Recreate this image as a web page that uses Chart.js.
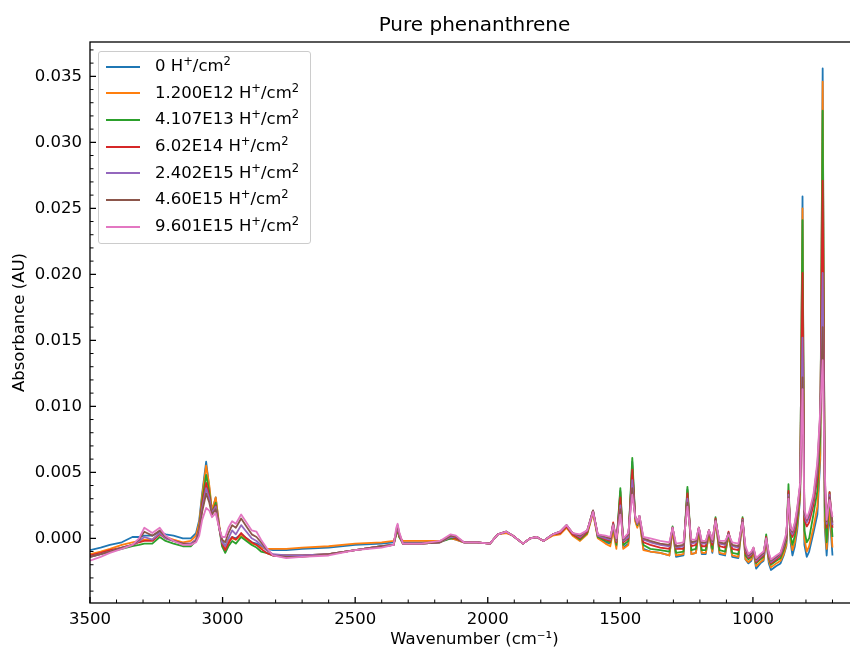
<!DOCTYPE html>
<html>
<head>
<meta charset="utf-8">
<title>Pure phenanthrene</title>
<script src="https://cdn.jsdelivr.net/npm/chart.js@4/dist/chart.umd.min.js"></script>
<style>
  html, body { margin: 0; padding: 0; background: #fff; overflow: hidden; }
  .chart-wrap { position: relative; width: 860px; height: 651px; }
  .legend-box {
    position: absolute; left: 98px; top: 51px; width: 211px; height: 190px;
    background: rgba(255,255,255,0.8); border: 1px solid #cccccc; border-radius: 3px;
    font-family: 'DejaVu Sans', sans-serif; font-size: 16.5px; color: #000;
    padding-top: 1px;
  }
  .legend-row { position: relative; height: 26.7px; line-height: 26.7px; padding-left: 56px; white-space: nowrap; }
  .legend-line { position: absolute; left: 7px; top: 12.5px; width: 34px; height: 2px; }
  .legend-row sup { font-size: 0.7em; vertical-align: 0.5em; line-height: 0; }
</style>
</head>
<body>
<div class="chart-wrap">
  <canvas id="spectrum-chart" width="860" height="651"></canvas>
  <div class="legend-box" id="spectrum-legend"></div>
</div>
<script>
// wavenumbers (cm-1), shared by all spectra
var wavenumbers = [3500,3460,3425,3380,3340,3315,3295,3265,3237,3215,
  3185,3150,3120,3100,3088,3077,3062,3050,3040,3026,
  3012,3002,2990,2978,2964,2950,2930,2910,2890,2872,
  2855,2835,2810,2760,2700,2600,2500,2400,2355,2345,
  2340,2334,2320,2250,2180,2140,2120,2090,2040,1992,
  1962,1930,1905,1867,1840,1815,1790,1755,1727,1703,
  1680,1652,1625,1603,1585,1556,1538,1527,1515,1500,
  1489,1470,1455,1444,1436,1428,1413,1387,1350,1315,
  1303,1290,1262,1247,1232,1215,1204,1193,1178,1166,
  1153,1141,1126,1105,1092,1078,1055,1039,1028,1017,
  1006,998,988,972,960,950,940,932,912,896,
  884,874,866,858,851,842,833,822,813,806,
  797,788,772,757,746,737,729,722,711,700];

// proton fluences
var doses = ['0', '1.200E12', '4.107E13', '6.02E14', '2.402E15', '4.60E15', '9.601E15'];

// tick labels
var xTickValues = [3500, 3000, 2500, 2000, 1500, 1000];
var yTickValues = [0, 0.005, 0.010, 0.015, 0.020, 0.025, 0.030, 0.035];

// absorbance (AU) for each fluence
var abs0 = [-0.0009,-0.0007,-0.0005,-0.0003,0.0001,0.0001,0.0002,0.0002,0.0005,0.0003,
  0.0002,0.0000,0.0000,0.0004,0.0014,0.0034,0.0058,0.0038,0.0020,0.0031,
  0.0008,-0.0002,-0.0006,-0.0002,0.0001,0.0000,0.0003,0.0000,-0.0003,-0.0004,
  -0.0006,-0.0008,-0.0009,-0.0009,-0.0008,-0.0007,-0.0005,-0.0004,-0.0003,0.0004,
  0.0008,0.0002,-0.0003,-0.0003,-0.0002,0.0000,-0.0001,-0.0003,-0.0003,-0.0004,
  0.0003,0.0005,0.0002,-0.0004,0.0000,0.0001,-0.0002,0.0003,0.0005,0.0009,
  0.0003,-0.0001,0.0004,0.0020,0.0001,-0.0003,-0.0004,0.0007,-0.0006,0.0036,
  -0.0007,-0.0004,0.0058,0.0014,0.0009,0.0015,-0.0008,-0.0010,-0.0011,-0.0013,
  0.0007,-0.0014,-0.0013,0.0037,-0.0012,-0.0011,0.0006,-0.0012,-0.0012,0.0004,
  -0.0011,0.0014,-0.0012,-0.0013,0.0003,-0.0014,-0.0015,0.0014,-0.0016,-0.0019,
  -0.0017,-0.0010,-0.0023,-0.0019,-0.0017,-0.0002,-0.0019,-0.0024,-0.0021,-0.0019,
  -0.0013,-0.0006,0.0035,-0.0003,-0.0013,-0.0006,0.0006,0.0030,0.0259,-0.0005,
  -0.0014,-0.0010,0.0004,0.0018,0.0060,0.0356,0.0008,-0.0013,0.0020,-0.0013];
var abs1 = [-0.0012,-0.0010,-0.0008,-0.0005,-0.0003,-0.0002,-0.0001,-0.0001,0.0004,0.0001,
  -0.0001,-0.0003,-0.0002,0.0002,0.0012,0.0032,0.0055,0.0040,0.0021,0.0031,
  0.0009,-0.0003,-0.0007,-0.0002,0.0000,-0.0001,0.0002,-0.0001,-0.0004,-0.0005,
  -0.0007,-0.0008,-0.0008,-0.0008,-0.0007,-0.0006,-0.0004,-0.0003,-0.0002,0.0003,
  0.0007,0.0001,-0.0002,-0.0002,-0.0002,0.0000,-0.0001,-0.0003,-0.0003,-0.0004,
  0.0003,0.0004,0.0002,-0.0004,0.0000,0.0001,-0.0002,0.0002,0.0003,0.0008,
  0.0002,-0.0002,0.0003,0.0019,0.0000,-0.0004,-0.0006,0.0006,-0.0008,0.0035,
  -0.0008,-0.0005,0.0055,0.0013,0.0008,0.0014,-0.0009,-0.0010,-0.0011,-0.0013,
  0.0006,-0.0013,-0.0012,0.0036,-0.0012,-0.0011,0.0005,-0.0011,-0.0011,0.0003,
  -0.0010,0.0013,-0.0011,-0.0012,0.0002,-0.0013,-0.0014,0.0013,-0.0016,-0.0018,
  -0.0016,-0.0010,-0.0021,-0.0018,-0.0016,-0.0002,-0.0017,-0.0022,-0.0019,-0.0017,
  -0.0012,-0.0005,0.0033,-0.0001,-0.0009,-0.0003,0.0009,0.0032,0.0250,0.0000,
  -0.0010,-0.0006,0.0008,0.0024,0.0064,0.0346,0.0013,-0.0008,0.0024,-0.0007];
var abs2 = [-0.0014,-0.0012,-0.0010,-0.0008,-0.0006,-0.0005,-0.0004,-0.0004,0.0001,-0.0002,
  -0.0004,-0.0006,-0.0006,-0.0002,0.0008,0.0028,0.0048,0.0035,0.0019,0.0027,
  0.0007,-0.0006,-0.0011,-0.0006,-0.0002,-0.0004,0.0001,-0.0002,-0.0005,-0.0007,
  -0.0010,-0.0011,-0.0013,-0.0013,-0.0013,-0.0012,-0.0009,-0.0006,-0.0005,0.0003,
  0.0007,0.0001,-0.0004,-0.0004,-0.0003,0.0000,0.0000,-0.0003,-0.0003,-0.0004,
  0.0003,0.0005,0.0002,-0.0004,0.0000,0.0001,-0.0002,0.0003,0.0004,0.0009,
  0.0003,-0.0001,0.0004,0.0021,0.0001,-0.0002,-0.0003,0.0010,-0.0005,0.0038,
  -0.0005,-0.0002,0.0061,0.0016,0.0010,0.0016,-0.0005,-0.0008,-0.0009,-0.0010,
  0.0009,-0.0011,-0.0010,0.0039,-0.0009,-0.0008,0.0008,-0.0009,-0.0009,0.0006,
  -0.0008,0.0016,-0.0009,-0.0010,0.0004,-0.0011,-0.0012,0.0016,-0.0013,-0.0016,
  -0.0014,-0.0008,-0.0019,-0.0016,-0.0014,0.0003,-0.0015,-0.0020,-0.0017,-0.0015,
  -0.0009,-0.0002,0.0041,0.0002,-0.0005,0.0002,0.0013,0.0036,0.0241,0.0006,
  -0.0003,0.0000,0.0018,0.0036,0.0078,0.0324,0.0024,-0.0003,0.0035,0.0001];
var abs3 = [-0.0013,-0.0011,-0.0009,-0.0007,-0.0005,-0.0003,-0.0002,-0.0002,0.0003,0.0000,
  -0.0002,-0.0004,-0.0004,-0.0001,0.0007,0.0026,0.0042,0.0032,0.0019,0.0025,
  0.0007,-0.0004,-0.0009,-0.0004,0.0001,-0.0001,0.0004,0.0000,-0.0003,-0.0005,
  -0.0008,-0.0011,-0.0013,-0.0013,-0.0013,-0.0012,-0.0009,-0.0006,-0.0005,0.0004,
  0.0008,0.0002,-0.0004,-0.0004,-0.0003,0.0001,0.0000,-0.0003,-0.0003,-0.0004,
  0.0003,0.0005,0.0002,-0.0004,0.0000,0.0001,-0.0002,0.0003,0.0004,0.0009,
  0.0003,0.0000,0.0005,0.0021,0.0002,-0.0001,-0.0002,0.0012,-0.0003,0.0031,
  -0.0003,0.0000,0.0052,0.0016,0.0011,0.0016,-0.0003,-0.0005,-0.0007,-0.0008,
  0.0008,-0.0008,-0.0008,0.0034,-0.0006,-0.0005,0.0008,-0.0006,-0.0006,0.0006,
  -0.0005,0.0015,-0.0006,-0.0007,0.0005,-0.0008,-0.0009,0.0015,-0.0011,-0.0015,
  -0.0013,-0.0008,-0.0018,-0.0015,-0.0013,0.0001,-0.0014,-0.0019,-0.0016,-0.0013,
  -0.0007,0.0000,0.0036,0.0005,0.0001,0.0006,0.0017,0.0038,0.0201,0.0014,
  0.0009,0.0012,0.0025,0.0046,0.0088,0.0271,0.0036,0.0008,0.0035,0.0008];
var abs4 = [-0.0014,-0.0012,-0.0010,-0.0007,-0.0005,-0.0002,0.0001,-0.0001,0.0004,0.0000,
  -0.0002,-0.0004,-0.0004,-0.0001,0.0006,0.0023,0.0038,0.0030,0.0019,0.0024,
  0.0007,-0.0003,-0.0006,0.0000,0.0006,0.0003,0.0010,0.0005,0.0000,-0.0002,
  -0.0005,-0.0009,-0.0012,-0.0013,-0.0013,-0.0012,-0.0009,-0.0006,-0.0005,0.0005,
  0.0009,0.0003,-0.0004,-0.0004,-0.0003,0.0001,0.0001,-0.0003,-0.0003,-0.0004,
  0.0003,0.0005,0.0002,-0.0004,0.0000,0.0001,-0.0002,0.0003,0.0005,0.0010,
  0.0004,0.0001,0.0006,0.0021,0.0002,0.0000,-0.0001,0.0011,-0.0002,0.0025,
  -0.0002,0.0001,0.0044,0.0016,0.0011,0.0017,-0.0001,-0.0003,-0.0005,-0.0006,
  0.0008,-0.0007,-0.0006,0.0030,-0.0004,-0.0003,0.0008,-0.0004,-0.0004,0.0006,
  -0.0003,0.0014,-0.0004,-0.0005,0.0004,-0.0006,-0.0007,0.0014,-0.0009,-0.0014,
  -0.0012,-0.0008,-0.0017,-0.0014,-0.0012,0.0000,-0.0013,-0.0018,-0.0015,-0.0012,
  -0.0006,0.0001,0.0033,0.0006,0.0003,0.0009,0.0020,0.0040,0.0152,0.0018,
  0.0012,0.0016,0.0029,0.0052,0.0093,0.0201,0.0042,0.0011,0.0033,0.0010];
var abs5 = [-0.0014,-0.0012,-0.0010,-0.0007,-0.0005,-0.0001,0.0005,0.0002,0.0006,0.0001,
  -0.0002,-0.0004,-0.0005,-0.0002,0.0005,0.0020,0.0034,0.0027,0.0018,0.0022,
  0.0007,-0.0001,-0.0003,0.0004,0.0010,0.0008,0.0015,0.0009,0.0003,0.0001,
  -0.0003,-0.0008,-0.0013,-0.0014,-0.0014,-0.0012,-0.0009,-0.0006,-0.0005,0.0006,
  0.0010,0.0004,-0.0004,-0.0004,-0.0003,0.0002,0.0001,-0.0003,-0.0003,-0.0004,
  0.0003,0.0005,0.0002,-0.0004,0.0000,0.0001,-0.0002,0.0003,0.0005,0.0010,
  0.0004,0.0002,0.0006,0.0021,0.0003,0.0001,0.0000,0.0011,-0.0001,0.0022,
  -0.0001,0.0003,0.0038,0.0017,0.0012,0.0017,0.0000,-0.0002,-0.0004,-0.0005,
  0.0008,-0.0006,-0.0005,0.0027,-0.0003,-0.0002,0.0008,-0.0003,-0.0003,0.0006,
  -0.0002,0.0014,-0.0003,-0.0004,0.0004,-0.0005,-0.0006,0.0013,-0.0008,-0.0013,
  -0.0011,-0.0007,-0.0016,-0.0013,-0.0011,0.0000,-0.0012,-0.0017,-0.0014,-0.0011,
  -0.0005,0.0002,0.0031,0.0007,0.0005,0.0011,0.0022,0.0040,0.0122,0.0020,
  0.0014,0.0018,0.0031,0.0055,0.0095,0.0160,0.0046,0.0013,0.0031,0.0012];
var abs6 = [-0.0017,-0.0014,-0.0011,-0.0008,-0.0005,0.0000,0.0008,0.0004,0.0008,0.0002,
  -0.0002,-0.0005,-0.0005,-0.0003,0.0002,0.0014,0.0023,0.0021,0.0016,0.0019,
  0.0007,0.0001,0.0001,0.0008,0.0013,0.0011,0.0018,0.0012,0.0006,0.0005,
  -0.0001,-0.0007,-0.0013,-0.0015,-0.0014,-0.0013,-0.0009,-0.0007,-0.0005,0.0008,
  0.0011,0.0005,-0.0004,-0.0004,-0.0002,0.0003,0.0002,-0.0003,-0.0003,-0.0004,
  0.0003,0.0005,0.0002,-0.0004,0.0000,0.0001,-0.0002,0.0003,0.0005,0.0010,
  0.0004,0.0003,0.0006,0.0020,0.0003,0.0002,0.0001,0.0010,0.0000,0.0018,
  0.0000,0.0004,0.0033,0.0017,0.0012,0.0017,0.0001,0.0000,-0.0002,-0.0003,
  0.0008,-0.0004,-0.0003,0.0024,-0.0001,-0.0001,0.0008,-0.0002,-0.0002,0.0006,
  -0.0001,0.0013,-0.0002,-0.0002,0.0003,-0.0003,-0.0004,0.0012,-0.0006,-0.0012,
  -0.0010,-0.0007,-0.0015,-0.0012,-0.0010,0.0000,-0.0011,-0.0016,-0.0013,-0.0011,
  -0.0003,0.0004,0.0030,0.0008,0.0006,0.0012,0.0023,0.0042,0.0113,0.0022,
  0.0015,0.0020,0.0033,0.0058,0.0098,0.0135,0.0050,0.0014,0.0029,0.0016];

var spectra = [abs0, abs1, abs2, abs3, abs4, abs5, abs6];
var colors = ['#1f77b4', '#ff7f0e', '#2ca02c', '#d62728', '#9467bd', '#8c564b', '#e377c2'];

Chart.defaults.font.family = "'DejaVu Sans', sans-serif";
Chart.defaults.color = '#000';

// matplotlib style frame with inward ticks (left and bottom)
var insideTicks = {
  id: 'insideTicks',
  afterDraw: function(chart) {
    var ctx = chart.ctx;
    var area = chart.chartArea;
    var xs = chart.scales.x, ys = chart.scales.y;
    var i, p, v;
    ctx.save();
    ctx.strokeStyle = '#000';
    ctx.lineWidth = 1.3;
    ctx.strokeRect(area.left, area.top, area.right - area.left, area.bottom - area.top);

    ctx.beginPath();
    for (i = 0; i < xs.ticks.length; i++) {
      p = xs.getPixelForValue(xs.ticks[i].value);
      ctx.moveTo(p, area.bottom);
      ctx.lineTo(p, area.bottom - 6);
    }
    for (i = 0; i < ys.ticks.length; i++) {
      p = ys.getPixelForValue(ys.ticks[i].value);
      ctx.moveTo(area.left, p);
      ctx.lineTo(area.left + 6, p);
    }
    ctx.stroke();

    ctx.lineWidth = 1;
    ctx.beginPath();
    for (v = 700; v < 3500; v += 100) {
      if (v % 500 === 0) continue;
      p = xs.getPixelForValue(v);
      ctx.moveTo(p, area.bottom);
      ctx.lineTo(p, area.bottom - 3.5);
    }
    for (i = -4; i <= 37; i++) {
      if (i % 5 === 0) continue;
      p = ys.getPixelForValue(i / 1000);
      ctx.moveTo(area.left, p);
      ctx.lineTo(area.left + 3.5, p);
    }
    ctx.stroke();
    ctx.restore();
  }
};

var datasets = [];
for (var s = 0; s < spectra.length; s++) {
  var pts = [];
  for (var k = 0; k < wavenumbers.length; k++) {
    pts.push({x: wavenumbers[k], y: spectra[s][k]});
  }
  datasets.push({
    label: doses[s] + ' H\u207A/cm\u00B2',
    data: pts,
    borderColor: colors[s],
    backgroundColor: colors[s],
    borderWidth: 1.8,
    borderJoinStyle: 'round',
    pointRadius: 0,
    tension: 0,
    fill: false,
    order: spectra.length - 1 - s
  });
}

var spectrumChart = new Chart(document.getElementById('spectrum-chart'), {
  type: 'line',
  data: { datasets: datasets },
  plugins: [insideTicks],
  options: {
    responsive: false,
    animation: false,
    layout: { padding: { left: 0, right: 1, top: 0, bottom: 0 } },
    plugins: {
      legend: { display: false },
      tooltip: { enabled: false },
      title: {
        display: true,
        text: 'Pure phenanthrene',
        fullSize: false,
        color: '#000',
        font: { size: 20, weight: 'normal' },
        padding: { top: 14, bottom: 4 }
      }
    },
    scales: {
      x: {
        type: 'linear',
        min: 600,
        max: 3500,
        reverse: true,
        grid: { display: false, drawTicks: false },
        border: { display: false },
        afterBuildTicks: function(scale) {
          scale.ticks = xTickValues.map(function(v) { return {value: v}; });
        },
        ticks: {
          autoSkip: false,
          maxRotation: 0,
          padding: 7,
          color: '#000',
          font: { size: 16.5 },
          callback: function(value) { return String(value); }
        },
        title: {
          display: true,
          text: 'Wavenumber (cm\u207B\u00B9)',
          color: '#000',
          font: { size: 16.5 },
          padding: { top: 0, bottom: 1 }
        },
        afterFit: function(scale) { scale.height = 48; }
      },
      y: {
        min: -0.0049,
        max: 0.0376,
        grid: { display: false, drawTicks: false },
        border: { display: false },
        afterBuildTicks: function(scale) {
          scale.ticks = yTickValues.map(function(v) { return {value: v}; });
        },
        ticks: {
          autoSkip: false,
          padding: 8,
          color: '#000',
          font: { size: 16.5 },
          callback: function(value) { return value.toFixed(3); }
        },
        title: {
          display: true,
          text: 'Absorbance (AU)',
          color: '#000',
          font: { size: 16.5 },
          padding: { top: 10, bottom: 0 }
        },
        afterFit: function(scale) { scale.width = 90; }
      }
    }
  }
});

// html legend inside the plot, upper left
var legendBox = document.getElementById('spectrum-legend');
for (var d = 0; d < spectrumChart.data.datasets.length; d++) {
  var row = document.createElement('div');
  row.className = 'legend-row';
  row.innerHTML = '<span class="legend-line" style="background:' + colors[d] + '"></span>' +
    doses[d] + ' H<sup>+</sup>/cm<sup>2</sup>';
  legendBox.appendChild(row);
}
</script>
</body>
</html>
